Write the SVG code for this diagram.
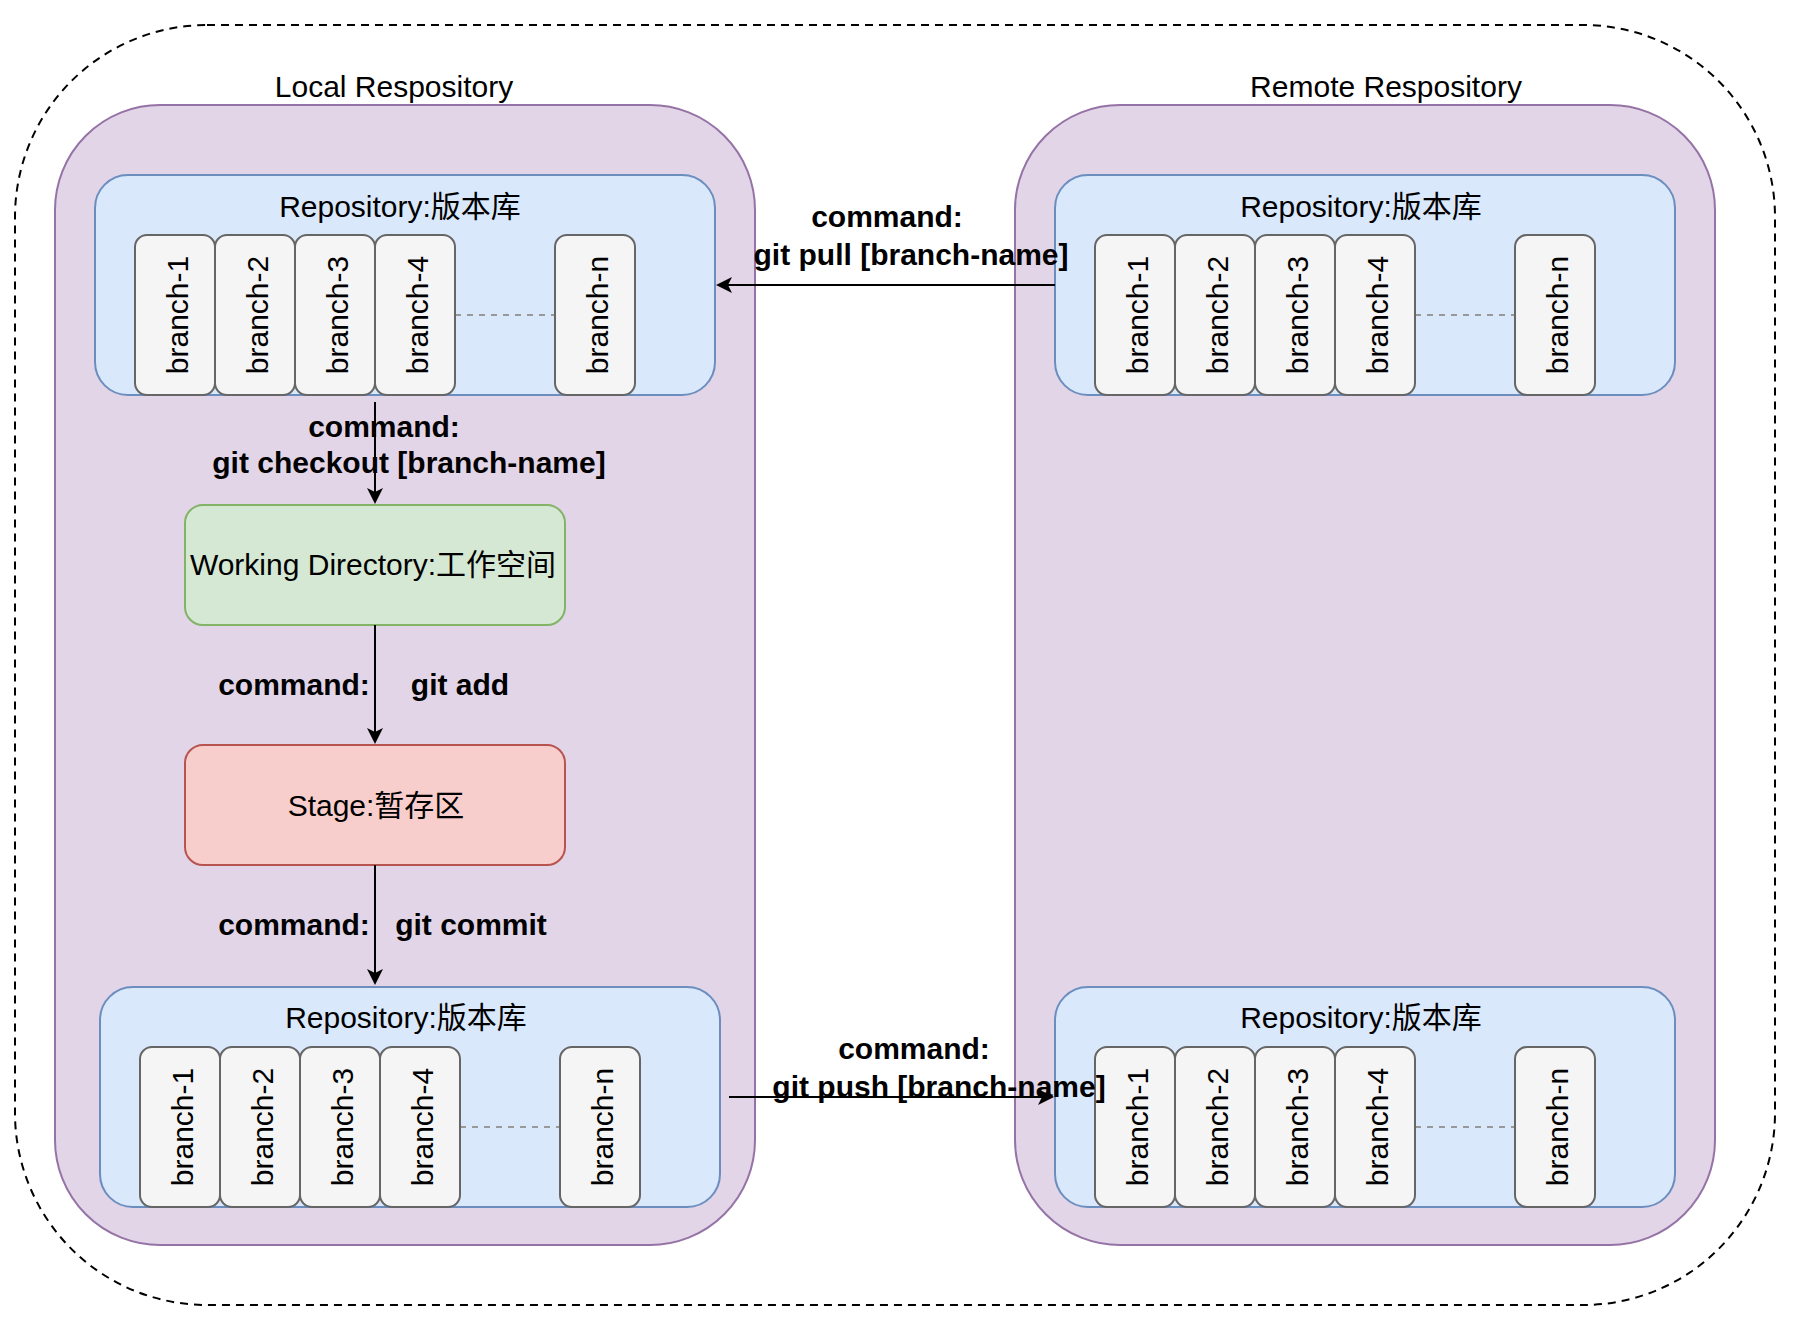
<svg xmlns="http://www.w3.org/2000/svg" width="1800" height="1320" viewBox="0 0 1800 1320">
<style>
text{font-family:"Liberation Sans",Arial,"Noto Sans CJK SC",sans-serif;font-size:30px;fill:#000}
.b{font-weight:bold}
.m{text-anchor:middle}
.outer{fill:none;stroke:#000;stroke-width:2;stroke-dasharray:8 6}
.purple{fill:#e1d5e7;stroke:#9673a6;stroke-width:2}
.blue{fill:#dae8fc;stroke:#6c8ebf;stroke-width:2}
.green{fill:#d5e8d4;stroke:#82b366;stroke-width:2}
.red{fill:#f8cecc;stroke:#b85450;stroke-width:2}
.br{fill:#f5f5f5;stroke:#666666;stroke-width:2}
.dl{stroke:#999999;stroke-width:2;stroke-dasharray:6 6;fill:none}
.edge{stroke:#000;stroke-width:2;fill:none;marker-end:url(#arrow)}
</style>
<defs>
<marker id="arrow" viewBox="0 0 16 16" refX="13" refY="8" markerWidth="16" markerHeight="16" markerUnits="userSpaceOnUse" orient="auto"><path d="M16,8 L0,0 L4,8 L0,16 Z" fill="#000"/></marker>
</defs>
<rect width="1800" height="1320" fill="#fff"/>
<g id="outer"><rect class="outer" x="15" y="25" width="1760" height="1280" rx="192" ry="192"/></g>

<g id="local">
<rect class="purple" x="55" y="105" width="700" height="1140" rx="105" ry="105"/>
<text class="m" x="394" y="97">Local Respository</text>
</g>
<g id="remote">
<rect class="purple" x="1015" y="105" width="700" height="1140" rx="105" ry="105"/>
<text class="m" x="1386" y="97">Remote Respository</text>
</g>

<g id="local-repo-top">
<rect class="blue" x="95" y="175" width="620" height="220" rx="33" ry="33"/>
<text class="m" x="400" y="217">Repository:版本库</text>
<line class="dl" x1="455" y1="315" x2="555" y2="315"/>
<rect class="br" x="135" y="235" width="80" height="160" rx="12" ry="12"/>
<text class="m" transform="translate(187.5,315) rotate(-90)">branch-1</text>
<rect class="br" x="215" y="235" width="80" height="160" rx="12" ry="12"/>
<text class="m" transform="translate(267.5,315) rotate(-90)">branch-2</text>
<rect class="br" x="295" y="235" width="80" height="160" rx="12" ry="12"/>
<text class="m" transform="translate(347.5,315) rotate(-90)">branch-3</text>
<rect class="br" x="375" y="235" width="80" height="160" rx="12" ry="12"/>
<text class="m" transform="translate(427.5,315) rotate(-90)">branch-4</text>
<rect class="br" x="555" y="235" width="80" height="160" rx="12" ry="12"/>
<text class="m" transform="translate(607.5,315) rotate(-90)">branch-n</text>
</g>

<g id="local-repo-bottom">
<rect class="blue" x="100" y="987" width="620" height="220" rx="33" ry="33"/>
<text class="m" x="406" y="1028">Repository:版本库</text>
<line class="dl" x1="460" y1="1127" x2="560" y2="1127"/>
<rect class="br" x="140" y="1047" width="80" height="160" rx="12" ry="12"/>
<text class="m" transform="translate(192.5,1127) rotate(-90)">branch-1</text>
<rect class="br" x="220" y="1047" width="80" height="160" rx="12" ry="12"/>
<text class="m" transform="translate(272.5,1127) rotate(-90)">branch-2</text>
<rect class="br" x="300" y="1047" width="80" height="160" rx="12" ry="12"/>
<text class="m" transform="translate(352.5,1127) rotate(-90)">branch-3</text>
<rect class="br" x="380" y="1047" width="80" height="160" rx="12" ry="12"/>
<text class="m" transform="translate(432.5,1127) rotate(-90)">branch-4</text>
<rect class="br" x="560" y="1047" width="80" height="160" rx="12" ry="12"/>
<text class="m" transform="translate(612.5,1127) rotate(-90)">branch-n</text>
</g>

<g id="remote-repo-top">
<rect class="blue" x="1055" y="175" width="620" height="220" rx="33" ry="33"/>
<text class="m" x="1361" y="217">Repository:版本库</text>
<line class="dl" x1="1415" y1="315" x2="1515" y2="315"/>
<rect class="br" x="1095" y="235" width="80" height="160" rx="12" ry="12"/>
<text class="m" transform="translate(1147.5,315) rotate(-90)">branch-1</text>
<rect class="br" x="1175" y="235" width="80" height="160" rx="12" ry="12"/>
<text class="m" transform="translate(1227.5,315) rotate(-90)">branch-2</text>
<rect class="br" x="1255" y="235" width="80" height="160" rx="12" ry="12"/>
<text class="m" transform="translate(1307.5,315) rotate(-90)">branch-3</text>
<rect class="br" x="1335" y="235" width="80" height="160" rx="12" ry="12"/>
<text class="m" transform="translate(1387.5,315) rotate(-90)">branch-4</text>
<rect class="br" x="1515" y="235" width="80" height="160" rx="12" ry="12"/>
<text class="m" transform="translate(1567.5,315) rotate(-90)">branch-n</text>
</g>

<g id="remote-repo-bottom">
<rect class="blue" x="1055" y="987" width="620" height="220" rx="33" ry="33"/>
<text class="m" x="1361" y="1028">Repository:版本库</text>
<line class="dl" x1="1415" y1="1127" x2="1515" y2="1127"/>
<rect class="br" x="1095" y="1047" width="80" height="160" rx="12" ry="12"/>
<text class="m" transform="translate(1147.5,1127) rotate(-90)">branch-1</text>
<rect class="br" x="1175" y="1047" width="80" height="160" rx="12" ry="12"/>
<text class="m" transform="translate(1227.5,1127) rotate(-90)">branch-2</text>
<rect class="br" x="1255" y="1047" width="80" height="160" rx="12" ry="12"/>
<text class="m" transform="translate(1307.5,1127) rotate(-90)">branch-3</text>
<rect class="br" x="1335" y="1047" width="80" height="160" rx="12" ry="12"/>
<text class="m" transform="translate(1387.5,1127) rotate(-90)">branch-4</text>
<rect class="br" x="1515" y="1047" width="80" height="160" rx="12" ry="12"/>
<text class="m" transform="translate(1567.5,1127) rotate(-90)">branch-n</text>
</g>

<g id="working-directory">
<rect class="green" x="185" y="505" width="380" height="120" rx="18" ry="18"/>
<text class="m" x="373" y="575">Working Directory:工作空间</text>
</g>
<g id="stage">
<rect class="red" x="185" y="745" width="380" height="120" rx="18" ry="18"/>
<text class="m" x="376" y="816">Stage:暂存区</text>
</g>

<g id="connectors">
<line class="edge" x1="1055" y1="285" x2="719" y2="285"/>
<text class="b m" x="887" y="227">command:</text>
<text class="b m" x="911" y="265">git pull [branch-name]</text>

<line class="edge" x1="375" y1="402" x2="375" y2="501"/>
<text class="b m" x="384" y="437">command:</text>
<text class="b m" x="409" y="473">git checkout [branch-name]</text>

<line class="edge" x1="375" y1="625" x2="375" y2="741"/>
<text class="b m" x="294" y="695">command:</text>
<text class="b m" x="460" y="695">git add</text>

<line class="edge" x1="375" y1="865" x2="375" y2="982"/>
<text class="b m" x="294" y="935">command:</text>
<text class="b m" x="471" y="935">git commit</text>

<text class="b m" x="914" y="1059">command:</text>
<text class="b m" x="939" y="1097">git push [branch-name]</text>
<line class="edge" x1="729" y1="1097" x2="1051" y2="1097"/>
</g>
</svg>
